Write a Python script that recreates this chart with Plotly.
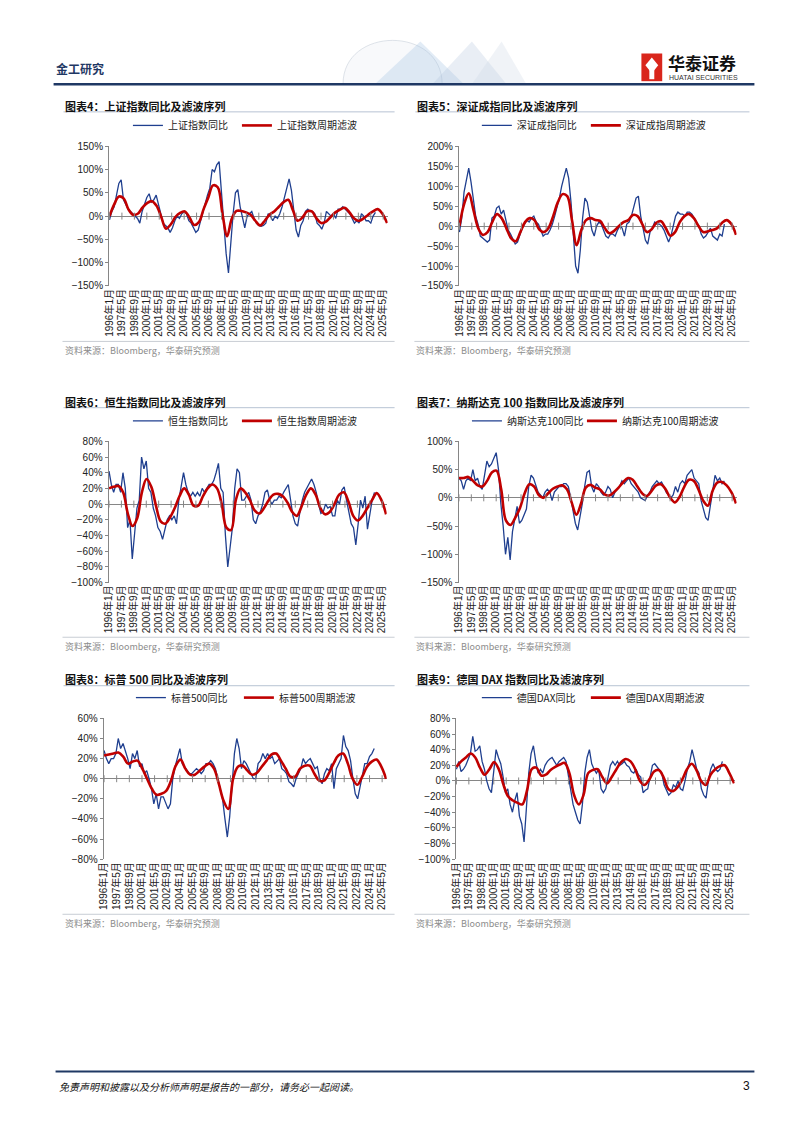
import pandas as pd
import plotly.graph_objects as go

W, H = 802, 1133

# ---------------- data ----------------
raw_dates = pd.date_range("1996-01-01", periods=115, freq="3MS")
filter_dates = pd.date_range("1996-01-01", "2025-10-01", periods=60)
tick_dates = pd.date_range("1996-01-01", periods=23, freq="16MS")
tick_labels = [f"{d.year}年{d.month}月" for d in tick_dates]

titles = ["图表4：上证指数同比及滤波序列", "图表5：深证成指同比及滤波序列",
          "图表6：恒生指数同比及滤波序列", "图表7：纳斯达克 100 指数同比及滤波序列",
          "图表8：标普 500 同比及滤波序列", "图表9：德国 DAX 指数同比及滤波序列"]
raw_names = ["上证指数同比", "深证成指同比", "恒生指数同比", "纳斯达克100同比", "标普500同比", "德国DAX同比"]
filter_names = ["上证指数周期滤波", "深证成指周期滤波", "恒生指数周期滤波", "纳斯达克100周期滤波",
                "标普500周期滤波", "德国DAX周期滤波"]
source_text = "资料来源：Bloomberg，华泰研究预测"

sse_yoy = [-8, 10, 20, 45, 70, 78, 35, 25, 15, 10, 5, 0, -5, -15, 10, 25, 40, 48, 30, 35,
           45, 25, 5, -15, -20, -25, -35, -25, -10, 0, -5, 5, 10, 5, -10, -15, -25, -35, -30, -10,
           10, 25, 45, 60, 100, 95, 110, 117, 50, -10, -80, -122, -50, 5, 50, 57, 20, -5, -25, 0,
           5, 10, -5, -15, -20, -22, -20, -15, 5, 0, -10, 0, -5, 5, 20, 40, 65, 80, 55, 15,
           -30, -45, -20, -10, 10, 15, 10, 10, 5, -15, -20, -28, -15, 10, 5, 0, 5, -5, 15, 15,
           20, 15, 10, 5, -5, -15, -10, -15, 5, 0, -10, -10, -15, 0, 8]
sse_filter = [0, 25, 42, 38, 15, 3, 5, 18, 28, 32, 22, -2, -27, -18, -2, 7, 10, -3, -19, -13,
              15, 40, 66, 62, 5, -43, -5, 11, 11, 8, 3, -10, -20, -10, 3, 10, 20, 30, 35, 12,
              -10, -3, 10, 10, -5, -15, -12, -2, 8, 14, 18, 8, -5, -10, -5, 3, 10, 15, 5, -15]

szse_yoy = [-15, 20, 85, 120, 145, 110, 60, 25, 5, -25, -30, -35, -40, -35, 20, 25, 45, 50, 30, 40,
            15, -10, -20, -35, -45, -40, -20, -5, 5, 15, 10, 20, 25, 10, 5, -10, -25, -20, -20, -10,
            5, 25, 45, 70, 100, 125, 145, 120, 60, -20, -100, -118, -60, 20, 70, 60, 20, -10, -25, 0,
            10, 5, -10, -25, -30, -20, -20, -25, -10, 0, -5, -25, 5, 10, 25, 50, 70, 75, 25, -5,
            -35, -45, -15, -5, 10, 5, 5, 0, -10, -25, -40, -25, 5, 25, 35, 30, 30, 25, 35, 35,
            30, 20, 10, 0, -20, -30, -25, -15, -5, -25, -30, -35, -20, -25, 5]
szse_filter = [0, 55, 82, 40, -5, -22, -15, 10, 30, 20, -5, -30, -38, -15, 10, 20, 15, -8, -15, -5,
               25, 60, 80, 75, 15, -48, -10, 15, 20, 15, 13, -5, -18, -12, 0, 10, 15, 28, 25, 5,
               -15, -8, 8, 12, -5, -24, -15, 10, 25, 30, 20, 0, -15, -13, -10, -5, 8, 15, 5, -22]

hsi_yoy = [42, 25, 15, 25, 25, 15, 40, 20, -30, -20, -70, -40, -5, 5, 60, 45, 55, 20, 15, -5,
           -15, -30, -35, -45, -30, -20, -15, -20, -15, -25, 5, 25, 40, 25, 15, 10, 15, 10, 15, 10,
           20, 15, 20, 25, 25, 30, 40, 52, 20, 15, -40, -80, -55, -30, 20, 45, 40, 5, 5, 10,
           15, 5, -20, -25, -15, -10, 0, 15, 18, 5, 0, 5, 5, 10, 8, 15, 20, 25, 5, -15,
           -25, -28, -10, 5, 15, 20, 25, 32, 25, 15, 0, -12, -10, 0, -5, -3, -15, -15, 5, 0,
           18, 22, 5, -10, -25, -30, -52, -25, 5, -5, 10, -32, -15, 5, 15]
hsi_filter = [20, 22, 23, 15, -12, -28, -18, 15, 32, 22, -2, -22, -25, -17, -5, 10, 20, 12, -2, -2,
              10, 20, 25, 20, 0, -30, -33, 5, 20, 15, 5, -8, -12, -5, 5, 12, 13, 10, 2, -10,
              -15, -3, 12, 20, 12, -5, -13, -10, 0, 12, 15, 3, -15, -21, -15, -5, 5, 14, 5, -13]

ndx_yoy = [35, 30, 15, 30, 35, 30, 50, 30, 35, 20, 15, 40, 65, 55, 60, 70, 80, 50, -10, -50,
           -100, -70, -110, -60, -40, -15, -45, -40, -30, -20, 20, 40, 35, 20, 10, 5, 0, 10, 15, 10,
           -5, 10, 15, 20, 20, 25, 25, 20, 0, -25, -45, -57, -35, -10, 20, 45, 48, 20, 10, 25,
           20, 10, 5, 10, 20, 15, 0, 10, 15, 20, 30, 25, 30, 35, 25, 20, 15, 10, 0, -3,
           -5, 5, 10, 20, 25, 30, 25, 28, 20, 10, 5, 0, 5, 20, 10, 25, 30, 25, 40, 45,
           50, 35, 30, 25, -5, -20, -35, -40, -15, 15, 40, 30, 35, 25, 30]
ndx_filter = [35, 35, 37, 30, 22, 20, 30, 45, 48, 15, -40, -48, -35, -18, 8, 24, 20, 5, 0, 8,
              16, 20, 22, 15, -8, -30, -10, 18, 23, 18, 15, 6, 4, 10, 18, 28, 35, 32, 20, 8,
              3, 12, 22, 24, 15, 0, -8, 2, 20, 32, 30, 15, -5, -14, 12, 27, 28, 22, 10, -10]

spx_yoy = [28, 20, 15, 20, 20, 25, 40, 30, 35, 28, 20, 10, 25, 20, 28, 12, 15, 5, 8, 0,
           -10, -25, -15, -30, -18, -18, -25, -30, -25, 0, 12, 22, 30, 15, 12, 8, 5, 5, 8, 10,
           8, 5, 8, 15, 15, 18, 15, 10, 0, -10, -20, -40, -58, -38, -5, 25, 40, 30, 10, 18,
           15, 10, 5, 0, 0, 15, 18, 25, 20, 25, 20, 22, 15, 18, 20, 10, 8, 5, -3, -5,
           -8, 0, 5, 10, 20, 15, 18, 20, 15, 10, 12, 0, -5, 5, 10, 8, 15, -10, 10, 15,
           20, 43, 32, 28, 18, 0, -15, -20, -8, 5, 15, 15, 22, 25, 30]
spx_filter = [23, 24, 25, 26, 22, 15, 17, 18, 10, 0, -10, -16, -15, -12, -2, 13, 19, 10, 4, 4,
              8, 12, 15, 10, -5, -22, -30, 0, 12, 13, 8, 4, 6, 12, 18, 24, 25, 18, 10, 2,
              2, 10, 13, 13, 5, -2, -2, 5, 15, 23, 25, 15, 0, -6, 2, 12, 17, 19, 12, 0]

dax_yoy = [15, 25, 12, 15, 20, 28, 35, 57, 38, 40, 45, 25, 15, 0, -10, -15, 10, 40, 30, 22,
           5, -15, -10, -30, -40, -25, -15, -45, -55, -78, -35, 10, 35, 45, 25, 10, 15, 10, 20, 25,
           28, 30, 25, 20, 25, 28, 30, 25, 5, -15, -30, -40, -50, -55, -30, 10, 30, 40, 22, 15,
           10, 15, -10, -15, -10, 5, 20, 25, 20, 25, 20, 22, 25, 20, 18, 12, 10, 15, 8, 5,
           -15, -12, -10, 5, 20, 22, 18, 15, 10, -5, -12, -18, -15, -5, -8, 0, -10, -12, 0, 15,
           25, 40, 28, 15, 10, -10, -18, -22, 0, 15, 22, 15, 12, 15, 25]
dax_filter = [18, 25, 30, 35, 30, 17, 8, 15, 24, 15, -5, -20, -25, -28, -30, -12, 15, 17, 7, 8,
              14, 18, 21, 23, 10, -18, -30, -18, 10, 14, 15, 5, -3, 5, 15, 24, 28, 25, 15, 0,
              -5, 2, 12, 14, 5, -10, -13, -8, 2, 15, 22, 14, 0, -5, 8, 15, 19, 20, 10, -3]

raw_series = [sse_yoy, szse_yoy, hsi_yoy, ndx_yoy, spx_yoy, dax_yoy]
filter_series = [sse_filter, szse_filter, hsi_filter, ndx_filter, spx_filter, dax_filter]
y_ranges = [(-150, 150), (-150, 200), (-100, 80), (-150, 100), (-80, 60), (-100, 80)]
y_dticks = [50, 50, 20, 50, 20, 20]

# ---------------- layout geometry (pixels) ----------------
plot_x = [(104, 385), (457, 737), (103.5, 384), (456.5, 737), (98.5, 384), (454, 735)]
plot_y = [(141.7, 283), (141.7, 283), (440, 582.7), (440, 582.7), (720, 862.3), (720, 862.3)]
legend_start = [123, 475, 123, 465, 126, 475]
legend_item_w = [64, 64, 64, 70, 63, 64]
legend_yc = [120.7, 120.7, 419.3, 419.3, 699, 699]
title_yc = [101.5, 101.5, 400, 400, 680, 680]
title_line_y = [107, 107, 406, 406, 687, 687]
source_line_y = [339, 339, 638, 638, 918, 918]
source_text_y = [348, 348, 647, 647, 927, 927]
col_left = [58, 413, 58, 413, 58, 413]
col_right = [392, 750, 392, 750, 392, 750]

BLUE = "#1F3F8F"
RED = "#C00000"
AXIS = "#868686"
CJK = "Noto Sans CJK SC"
LAT = "Liberation Sans, Noto Sans CJK SC"


def X(px):
    return px / W


def Y(py):
    return 1 - py / H


fig = go.Figure()
layout = dict(width=W, height=H, margin=dict(l=0, r=0, t=0, b=0),
              paper_bgcolor="white", plot_bgcolor="white", showlegend=True)
shapes = []
annotations = []

for i in range(6):
    n = "" if i == 0 else str(i + 1)
    xa, ya = "x" + n, "y" + n
    lg = "legend" + n
    fig.add_trace(go.Scatter(x=raw_dates, y=raw_series[i], mode="lines", name=raw_names[i],
                             line=dict(color=BLUE, width=1.3), xaxis=xa, yaxis=ya,
                             legend=lg, legendwidth=legend_item_w[i]))
    fig.add_trace(go.Scatter(x=filter_dates, y=filter_series[i], mode="lines", name=filter_names[i],
                             line=dict(color=RED, width=2.6, shape="spline", smoothing=1.0),
                             xaxis=xa, yaxis=ya, legend=lg))
    # small tick marks on the zero (category) axis
    fig.add_trace(go.Scatter(x=tick_dates, y=[0] * len(tick_dates), mode="markers",
                             marker=dict(symbol="line-ns", size=5, line=dict(color=AXIS, width=1)),
                             showlegend=False, hoverinfo="skip", xaxis=xa, yaxis=ya))

    layout["xaxis" + n] = dict(domain=[X(plot_x[i][0]), X(plot_x[i][1])], anchor=ya, type="date",
                               range=["1995-12-16", "2025-10-22"], tickmode="array",
                               tickvals=tick_dates, ticktext=tick_labels, tickangle=-90,
                               tickfont=dict(family=LAT, size=10, color="#222"),
                               showline=False, showgrid=False, zeroline=False, ticks="")
    layout["yaxis" + n] = dict(domain=[Y(plot_y[i][1]), Y(plot_y[i][0])], anchor=xa,
                               range=list(y_ranges[i]), dtick=y_dticks[i], ticksuffix="%",
                               tickfont=dict(family=LAT, size=10, color="#222"),
                               showline=True, linecolor=AXIS, linewidth=1, ticks="outside",
                               ticklen=3, tickcolor=AXIS, showgrid=False, zeroline=True,
                               zerolinecolor=AXIS, zerolinewidth=1)
    layout[lg] = dict(orientation="h", x=X(legend_start[i]), y=Y(legend_yc[i]), xanchor="left",
                      yanchor="middle", bgcolor="rgba(0,0,0,0)", borderwidth=0,
                      font=dict(family=CJK, size=10, color="#222"), itemwidth=30,
                      traceorder="normal")

    annotations.append(dict(text="<b>" + titles[i] + "</b>", xref="paper", yref="paper",
                            x=X(col_left[i]), y=Y(title_yc[i]), xanchor="left", yanchor="middle",
                            showarrow=False, font=dict(family=CJK, size=11, color="#111")))
    annotations.append(dict(text=source_text, xref="paper", yref="paper",
                            x=X(col_left[i] - 1), y=Y(source_text_y[i]), xanchor="left",
                            yanchor="middle", showarrow=False,
                            font=dict(family=CJK, size=9, color="#8C8C8C")))
    shapes.append(dict(type="line", xref="paper", yref="paper", x0=X(col_left[i]),
                       x1=X(col_right[i]), y0=Y(title_line_y[i]), y1=Y(title_line_y[i]),
                       line=dict(color="#B7C3D3", width=1)))
    shapes.append(dict(type="line", xref="paper", yref="paper", x0=X(col_left[i] - 1),
                       x1=X(col_right[i]), y0=Y(source_line_y[i]), y1=Y(source_line_y[i]),
                       line=dict(color="#C8CDD4", width=1)))

# ---------------- page header / footer ----------------
# faint decorative globe and ridges in the header
shapes.append(dict(type="path", xref="paper", yref="paper",
                   path=f"M {X(340)},{Y(79)} C {X(340)},{Y(20)} {X(440)},{Y(20)} {X(440)},{Y(79)} Z",
                   fillcolor="rgba(235,239,244,0.35)", line=dict(color="rgba(200,208,218,0.6)", width=1)))
for (a, b, c, col) in [(372, 418, 462, "rgba(160,192,225,0.30)"), (430, 470, 505, "rgba(175,195,218,0.28)"),
                        (470, 500, 525, "rgba(205,214,228,0.30)")]:
    shapes.append(dict(type="path", xref="paper", yref="paper",
                       path=f"M {X(a)},{Y(79)} L {X(b)},{Y(36)} L {X(c)},{Y(79)} Z",
                       fillcolor=col, line=dict(width=0)))
shapes.append(dict(type="line", xref="paper", yref="paper", x0=X(48), x1=X(755), y0=Y(79), y1=Y(79),
                   line=dict(color="#1F3864", width=2.5)))
shapes.append(dict(type="line", xref="paper", yref="paper", x0=X(50), x1=X(755), y0=Y(1077), y1=Y(1077),
                   line=dict(color="#1F3864", width=2)))
# logo mark
shapes.append(dict(type="rect", xref="paper", yref="paper", x0=X(641), x1=X(662), y0=Y(76), y1=Y(48),
                   fillcolor="#D9261C", line=dict(width=0)))
shapes.append(dict(type="path", xref="paper", yref="paper",
                   path=f"M {X(645)},{Y(60)} L {X(651.5)},{Y(52)} L {X(658)},{Y(60)} L {X(651.5)},{Y(68)} Z",
                   fillcolor="white", line=dict(width=0)))
shapes.append(dict(type="rect", xref="paper", yref="paper", x0=X(649), x1=X(654), y0=Y(74), y1=Y(62),
                   fillcolor="white", line=dict(width=0)))

annotations += [
    dict(text="<b>金工研究</b>", xref="paper", yref="paper", x=X(48), y=Y(63), xanchor="left",
         yanchor="middle", showarrow=False, font=dict(family=CJK, size=12, color="#1F3864")),
    dict(text="<b>华泰证券</b>", xref="paper", yref="paper", x=X(666), y=Y(57), xanchor="left",
         yanchor="middle", showarrow=False, font=dict(family=CJK, size=17, color="#111")),
    dict(text="HUATAI SECURITIES", xref="paper", yref="paper", x=X(667), y=Y(72.5), xanchor="left",
         yanchor="middle", showarrow=False, font=dict(family="Liberation Sans", size=7, color="#333")),
    dict(text="免责声明和披露以及分析师声明是报告的一部分，请务必一起阅读。", xref="paper", yref="paper",
         x=X(51), y=Y(1092), xanchor="left", yanchor="middle", showarrow=False,
         font=dict(family=CJK, size=10, color="#111", style="italic")),
    dict(text="3", xref="paper", yref="paper", x=X(753), y=Y(1092), xanchor="right",
         yanchor="middle", showarrow=False, font=dict(family="Liberation Sans", size=12, color="#111")),
]

layout["shapes"] = shapes
layout["annotations"] = annotations
fig.update_layout(**layout)
fig.write_html("out.html", config={"displayModeBar": False},
               post_script="document.body.style.margin='0';document.body.style.overflow='hidden';")
